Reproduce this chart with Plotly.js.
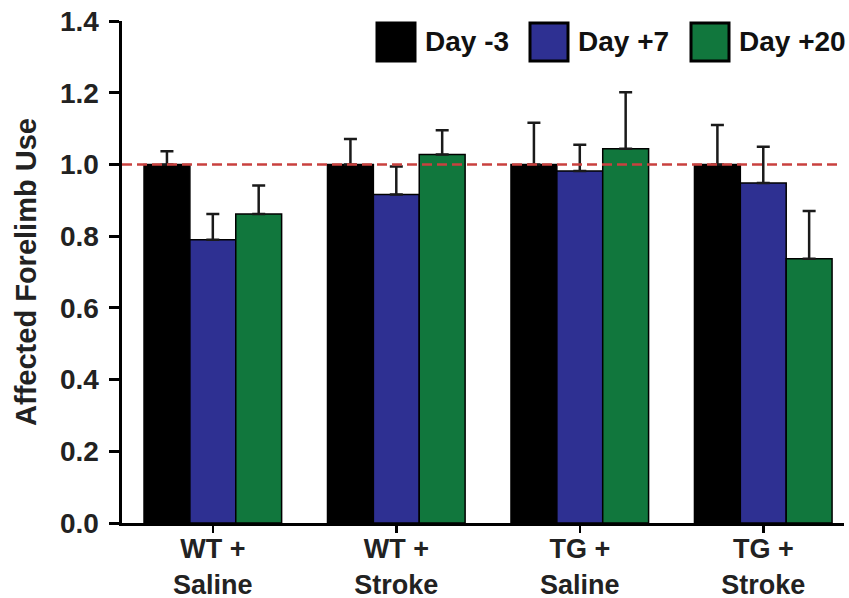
<!DOCTYPE html>
<html>
<head>
<meta charset="utf-8">
<script src="https://cdn.plot.ly/plotly-3.0.1.min.js"></script>
<style>
html,body{margin:0;padding:0;background:#fff;}
#chart{width:849px;height:598px;}
</style>
</head>
<body>
<div id="chart"></div>
<script>
const categories = ["WT +<br>Saline", "WT +<br>Stroke", "TG +<br>Saline", "TG +<br>Stroke"];
const seriesNames = ["Day -3", "Day +7", "Day +20"];
const seriesColors = ["#000000", "#2e3092", "#11773d"];
const dayMinus3 = [1.0, 1.0, 1.0, 1.0];
const dayPlus7 = [0.79, 0.916, 0.982, 0.948];
const dayPlus20 = [0.862, 1.028, 1.044, 0.737];
const errMinus3 = [0.037, 0.071, 0.116, 0.110];
const errPlus7 = [0.072, 0.078, 0.073, 0.101];
const errPlus20 = [0.079, 0.067, 0.157, 0.133];
const referenceLevel = 1.0;
const yTicks = [0, 0.2, 0.4, 0.6, 0.8, 1.0, 1.2, 1.4];

const values = [dayMinus3, dayPlus7, dayPlus20];
const errors = [errMinus3, errPlus7, errPlus20];
const FONT = "Liberation Sans, Arial, Helvetica, sans-serif";

const traces = values.map((v, i) => ({
  type: "bar",
  name: seriesNames[i],
  x: categories,
  y: v,
  marker: {color: seriesColors[i], line: {color: "#000", width: 1.5}},
  error_y: {type: "data", symmetric: false, array: errors[i], arrayminus: v.map(() => 0),
            color: "#1a1a1a", thickness: 2.5, width: 6.5},
  showlegend: false,
  hoverinfo: "y"
}));

// custom legend (large square swatches)
const legendX = [377, 530, 691];
const sw = 38;
const px = p => (p - 122) / 722;
const py = p => (523 - p) / 502;
const shapes = [{
  type: "line", xref: "paper", yref: "y", x0: 0, x1: 0.997, y0: referenceLevel, y1: referenceLevel,
  line: {color: "#c9413f", width: 2.5, dash: "10px,5px"}, layer: "above"
}];
const annotations = [];
seriesNames.forEach((n, i) => {
  shapes.push({type: "rect", xref: "paper", yref: "paper",
    x0: px(legendX[i]), x1: px(legendX[i] + sw), y0: py(23 + sw), y1: py(23),
    fillcolor: seriesColors[i], line: {color: "#000", width: 3}});
  annotations.push({xref: "paper", yref: "paper", x: px(legendX[i] + sw + 8), y: py(42),
    xanchor: "left", yanchor: "middle", text: "<b>" + n + "</b>", showarrow: false,
    font: {family: FONT, size: 28, color: "#111"}});
});

const layout = {
  width: 849, height: 598,
  margin: {l: 122, r: 5, t: 21, b: 75},
  paper_bgcolor: "#fff", plot_bgcolor: "#fff",
  barmode: "group", bargap: 0.25, bargroupgap: 0,
  font: {family: FONT, color: "#222"},
  xaxis: {
    type: "category",
    range: [-0.495, 3.44],
    showline: true, linecolor: "#000", linewidth: 3,
    ticks: "outside", ticklen: 7, tickwidth: 2.5, tickcolor: "#000",
    ticklabelstandoff: -7,
    tickfont: {family: FONT, size: 27, color: "#222", weight: "bold"},
    showgrid: false, zeroline: false, fixedrange: true
  },
  yaxis: {
    range: [0, 1.4],
    tickvals: yTicks,
    ticktext: yTicks.map(t => t.toFixed(1)),
    showline: true, linecolor: "#000", linewidth: 3.5,
    ticks: "outside", ticklen: 10, tickwidth: 3, tickcolor: "#000",
    ticklabelstandoff: 4,
    tickfont: {family: FONT, size: 28, color: "#222", weight: "bold"},
    showgrid: false, zeroline: false,
    title: {text: "<b>Affected Forelimb Use</b>", font: {family: FONT, size: 29, color: "#222"}, standoff: 16}
  },
  shapes: shapes,
  annotations: annotations
};

Plotly.newPlot("chart", traces, layout, {displayModeBar: false, staticPlot: true});
</script>
</body>
</html>
